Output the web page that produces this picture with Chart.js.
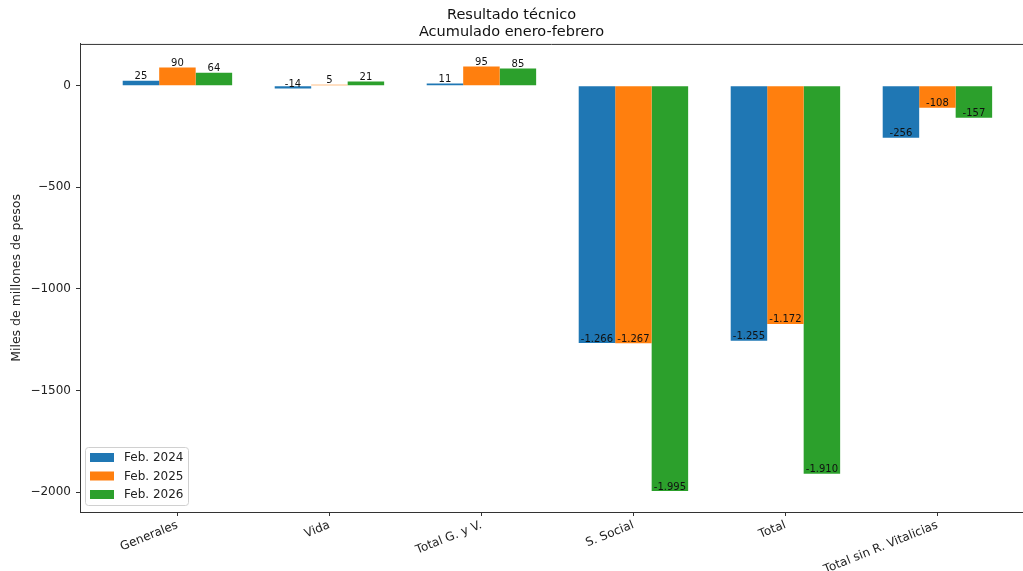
<!DOCTYPE html>
<html>
<head>
<meta charset="utf-8">
<script src="https://cdn.jsdelivr.net/npm/chart.js@4/dist/chart.umd.min.js"></script>
<style>
  body { margin: 0; background: #fff; }
</style>
</head>
<body>
<canvas id="grafico" width="1023" height="571"></canvas>
<script>
const categorias = ['Generales', 'Vida', 'Total G. y V.', 'S. Social', 'Total', 'Total sin R. Vitalicias'];
const series = ['Feb. 2024', 'Feb. 2025', 'Feb. 2026'];
const feb2024 = [25, -14, 11, -1266, -1255, -256];
const feb2025 = [90, 5, 95, -1267, -1172, -108];
const feb2026 = [64, 21, 85, -1995, -1910, -157];
const ticksY = [-2000, -1500, -1000, -500, 0];
const colores = ['#1f77b4', '#ff7f0e', '#2ca02c'];

Chart.defaults.font.family = 'DejaVu Sans';
Chart.defaults.color = '#222';

// formato con punto de miles: -1.266
function formato(v) {
  const s = String(Math.abs(v)).replace(/\B(?=(\d{3})+(?!\d))/g, '.');
  return (v < 0 ? '-' : '') + s;
}

function puntos(valores) {
  return valores.map((v, i) => ({ x: i, y: v }));
}

// etiquetas en el extremo de cada barra
const etiquetas = {
  id: 'etiquetas',
  afterDatasetsDraw(chart) {
    const ctx = chart.ctx;
    ctx.save();
    ctx.font = '10px "DejaVu Sans"';
    ctx.fillStyle = '#111';
    ctx.textAlign = 'center';
    ctx.textBaseline = 'bottom';
    chart.data.datasets.forEach((ds, d) => {
      chart.getDatasetMeta(d).data.forEach((bar, i) => {
        ctx.fillText(formato(ds.data[i].y), bar.x, bar.y + 1);
      });
    });
    ctx.restore();
  }
};

// borde superior y leyenda abajo a la izquierda
const marco = {
  id: 'marco',
  afterDraw(chart) {
    const { ctx, chartArea: a } = chart;
    ctx.save();
    ctx.strokeStyle = '#333';
    ctx.lineWidth = 1;
    ctx.beginPath();
    ctx.moveTo(a.left, a.top + 0.5);
    ctx.lineTo(a.right, a.top + 0.5);
    ctx.stroke();

    const x0 = a.left + 5, y0 = a.bottom - 65, w = 103, h = 58;
    ctx.beginPath();
    ctx.roundRect(x0 + 0.5, y0 + 0.5, w, h, 3);
    ctx.fillStyle = 'rgba(255,255,255,0.8)';
    ctx.fill();
    ctx.strokeStyle = '#d0d0d0';
    ctx.stroke();
    ctx.font = '12px "DejaVu Sans"';
    ctx.textBaseline = 'middle';
    ctx.textAlign = 'left';
    chart.data.datasets.forEach((ds, d) => {
      const yy = y0 + 10 + d * 18.5;
      ctx.fillStyle = ds.backgroundColor;
      ctx.fillRect(x0 + 5, yy - 4, 24, 9);
      ctx.fillStyle = '#222';
      ctx.fillText(ds.label, x0 + 39, yy + 1);
    });
    ctx.restore();
  }
};

new Chart(document.getElementById('grafico'), {
  type: 'bar',
  data: {
    datasets: [
      { label: series[0], data: puntos(feb2024), backgroundColor: colores[0] },
      { label: series[1], data: puntos(feb2025), backgroundColor: colores[1] },
      { label: series[2], data: puntos(feb2026), backgroundColor: colores[2] }
    ]
  },
  options: {
    responsive: false,
    animation: false,
    layout: { padding: 0 },
    datasets: { bar: { barPercentage: 1, categoryPercentage: 0.72 } },
    plugins: {
      legend: { display: false },
      tooltip: { enabled: false },
      title: {
        display: true,
        text: ['Resultado técnico', 'Acumulado enero-febrero'],
        font: { size: 14.5, weight: 'normal', lineHeight: 1.17 },
        color: '#111',
        padding: { top: 7, bottom: 3 }
      }
    },
    scales: {
      x: {
        type: 'linear',
        min: -0.641,
        max: 5.563,
        offset: false,
        grid: { display: true, drawOnChartArea: false, offset: false, tickLength: 4, color: '#333' },
        border: { display: true, color: '#333' },
        afterBuildTicks(scale) {
          scale.ticks = categorias.map((c, i) => ({ value: i }));
        },
        afterFit(scale) { scale.height = 59; },
        ticks: {
          autoSkip: false,
          minRotation: 22,
          maxRotation: 22,
          padding: 2,
          font: { size: 12 },
          color: '#222',
          callback: (v) => categorias[v]
        }
      },
      y: {
        min: -2098,
        max: 206,
        grid: { display: true, drawOnChartArea: false, tickLength: 4, color: '#333' },
        border: { display: true, color: '#333' },
        afterBuildTicks(scale) {
          scale.ticks = ticksY.map(v => ({ value: v }));
        },
        afterFit(scale) { scale.width = 80; },
        ticks: {
          padding: 5,
          font: { size: 12 },
          color: '#222',
          callback: (v) => (v < 0 ? '\u2212' + Math.abs(v) : String(v))
        },
        title: {
          display: true,
          text: 'Miles de millones de pesos',
          font: { size: 12.5 },
          color: '#222',
          padding: { top: 9, bottom: 0 }
        }
      }
    }
  },
  plugins: [etiquetas, marco]
});
</script>
</body>
</html>
